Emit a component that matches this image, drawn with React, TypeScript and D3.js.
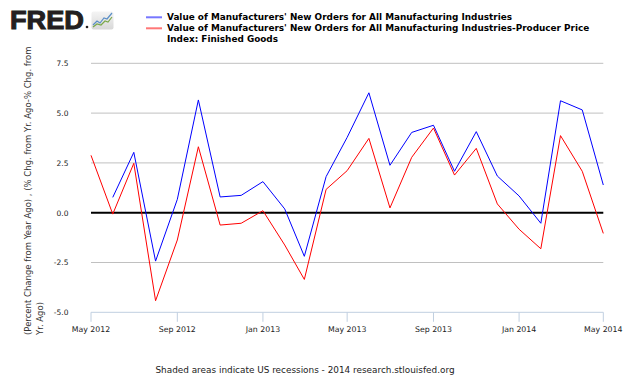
import React from "react";
import * as d3 from "d3";

const months: string[] = [
  "2012-05", "2012-06", "2012-07", "2012-08", "2012-09", "2012-10", "2012-11", "2012-12",
  "2013-01", "2013-02", "2013-03", "2013-04", "2013-05", "2013-06", "2013-07", "2013-08",
  "2013-09", "2013-10", "2013-11", "2013-12", "2014-01", "2014-02", "2014-03", "2014-04", "2014-05",
];
const newOrders: (number | null)[] = [
  null, 0.77, 3.03, -2.43, 0.67, 5.66, 0.79, 0.87,
  1.56, 0.19, -2.19, 1.81, 3.78, 6.02, 2.38, 4.03,
  4.39, 2.08, 4.07, 1.84, 0.84, -0.53, 5.62, 5.16, 1.39,
];
const deflated: (number | null)[] = [
  2.88, -0.07, 2.48, -4.42, -1.37, 3.31, -0.62, -0.53,
  0.1, -1.62, -3.35, 1.17, 2.11, 3.73, 0.24, 2.78,
  4.25, 1.89, 3.23, 0.44, -0.83, -1.81, 3.87, 2.08, -1.04,
];
const yTicks: number[] = [-5, -2.5, 0, 2.5, 5, 7.5];
const xTickDates: string[] = ["2012-05", "2012-09", "2013-01", "2013-05", "2013-09", "2014-01", "2014-05"];
const legendLabels: string[] = [
  "Value of Manufacturers' New Orders for All Manufacturing Industries",
  "Value of Manufacturers' New Orders for All Manufacturing Industries-Producer Price",
  "Index: Finished Goods",
];
const yTitleLines: string[] = [
  "(Percent Change from Year Ago) , (% Chg. from Yr. Ago-% Chg. from",
  "Yr. Ago)",
];
const footer = "Shaded areas indicate US recessions - 2014 research.stlouisfed.org";

const parse = d3.timeParse("%Y-%m");
const fmt = d3.timeFormat("%b %Y");

export default function App() {
  const W = 630, H = 378;
  const x = d3.scaleTime().domain([parse("2012-05")!, parse("2014-05")!]).range([91, 603.3]);
  const y = d3.scaleLinear().domain([-5, 7.5]).range([312.3, 63.3]);
  const dates = months.map((m) => parse(m)!);

  const mkLine = (vals: (number | null)[]) =>
    d3
      .line<number>()
      .defined((i) => vals[i] !== null)
      .x((i) => x(dates[i]))
      .y((i) => y(vals[i] as number))(d3.range(vals.length)) || "";

  const font = "'DejaVu Sans', Verdana, sans-serif";

  return (
    <svg width={W} height={H} style={{ position: "absolute", left: 0, top: 0, background: "#fff" }}>
      {/* logo */}
      <g>
        <text x={10} y={28.5} fontFamily="'Liberation Sans', Arial, sans-serif" fontWeight={700}
          fontSize={25} fill="#231f20" stroke="#231f20" strokeWidth={1} textLength={74}
          lengthAdjust="spacingAndGlyphs">FRED</text>
        <circle cx={87} cy={27} r={1.3} fill="#231f20" />
        <defs>
          <linearGradient id="lg" x1="0" y1="0" x2="0" y2="1">
            <stop offset="0" stopColor="#f4f4f4" />
            <stop offset="1" stopColor="#d8d8d8" />
          </linearGradient>
        </defs>
        <rect x={91.5} y={11.5} width={22} height={18} rx={2} fill="url(#lg)" />
        <polyline points="93,25 97,21 100,23 104,18 107,19 112,13" fill="none" stroke="#5b8fc7" strokeWidth={1.2} />
        <polyline points="93,27 97,24 101,25 105,21 108,22 112,17" fill="none" stroke="#7aa84a" strokeWidth={1.2} />
      </g>

      {/* legend */}
      <line x1={146} x2={162} y1={17.3} y2={17.3} stroke="#7777ff" strokeWidth={2} />
      <line x1={146} x2={162} y1={28.3} y2={28.3} stroke="#ff7777" strokeWidth={2} />
      {legendLabels.map((t, i) => (
        <text key={i} x={167} y={20.2 + i * 11} fontFamily={font} fontWeight={700} fontSize={8.9} fill="#000">
          {t}
        </text>
      ))}

      {/* y axis title */}
      {yTitleLines.map((t, i) => (
        <text key={i} transform={`translate(${31 + i * 12},335) rotate(-90)`} fontFamily={font}
          fontSize={8.5} fill="#333">{t}</text>
      ))}

      {/* grid */}
      {yTicks.filter((v) => v !== 0 && v !== -5).map((v) => (
        <line key={v} x1={91} x2={603.3} y1={y(v)} y2={y(v)} stroke="#c0c0c0" strokeWidth={1} />
      ))}
      {yTicks.map((v) => (
        <text key={"t" + v} x={68.5} y={y(v) + 2.8} textAnchor="end" fontFamily={font} fontSize={7.5} fill="#222">
          {v.toFixed(1)}
        </text>
      ))}

      {/* x axis */}
      <line x1={91} x2={603.3} y1={y(-5)} y2={y(-5)} stroke="#c0cfe0" strokeWidth={1} />
      {xTickDates.map((m) => {
        const d = parse(m)!;
        return (
          <g key={m}>
            <line x1={x(d)} x2={x(d)} y1={y(-5)} y2={y(-5) + 9.5} stroke="#c0cfe0" strokeWidth={1} />
            <text x={x(d)} y={331.5} textAnchor="middle" fontFamily={font} fontSize={7.8} fill="#222">
              {fmt(d)}
            </text>
          </g>
        );
      })}

      {/* zero line */}
      <line x1={91} x2={603.3} y1={y(0)} y2={y(0)} stroke="#000" strokeWidth={2} />

      {/* series */}
      <path d={mkLine(newOrders)} fill="none" stroke="#0000ff" strokeWidth={1} />
      <path d={mkLine(deflated)} fill="none" stroke="#ff0000" strokeWidth={1} />

      {/* footer */}
      <text x={305} y={373} textAnchor="middle" fontFamily={font} fontSize={8.9} fill="#222">
        {footer}
      </text>
    </svg>
  );
}
